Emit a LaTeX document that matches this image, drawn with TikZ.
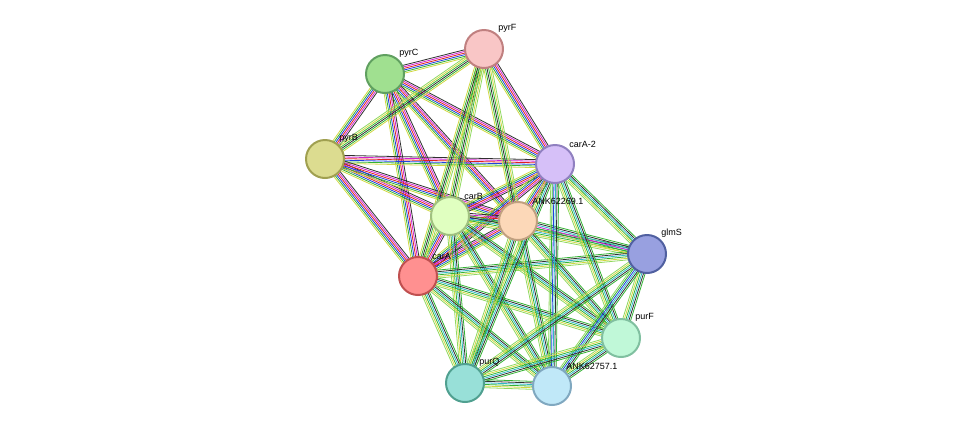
\documentclass[tikz,border=0pt]{standalone}
\usepackage{fontspec}
\setmainfont{Liberation Sans}
\usetikzlibrary{calc,backgrounds}
\definecolor{eg}{HTML}{33B233}
\definecolor{er}{HTML}{E02020}
\definecolor{eb}{HTML}{2040E0}
\definecolor{em}{HTML}{D020D0}
\definecolor{ek}{HTML}{303030}
\definecolor{ey}{HTML}{D0D840}
\definecolor{ec}{HTML}{30B8C8}
\definecolor{el}{HTML}{90D860}
\tikzset{
 prot/.style={circle,minimum size=38pt,inner sep=0pt,line width=2pt},
 lab/.style={font=\fontsize{9}{11}\selectfont,anchor=south west,inner sep=1pt},
 edgeline/.style={line width=0.8pt}
}
\newcommand\edg[3]{%
 \foreach \c [count=\i] in {#3} {%
  \pgfmathsetmacro\o{(\i-3.5)*1.6}%
  \draw[edgeline,\c] ($(#1)!\o pt!90:(#2)$) -- ($(#2)!\o pt!-90:(#1)$);}}
\newcommand\full[2]{\edg{#1}{#2}{ey,eg,eb,er,em,ek}}
\newcommand\purs[2]{\edg{#1}{#2}{el,ey,eg,ec,ek,eg}}
\newcommand\thin[2]{\edg{#1}{#2}{ey,eg,ek,eg,ey,el}}
\begin{document}
\begin{tikzpicture}[x=1pt,y=-1pt]
\useasboundingbox (0,0) rectangle (976,432);
\node[prot,fill={rgb,255:red,249;green,198;blue,198},draw={rgb,255:red,192;green,128;blue,128}] (pyrF) at (484,49) {};
\node[prot,fill={rgb,255:red,160;green,224;blue,144},draw={rgb,255:red,96;green,160;blue,96}] (pyrC) at (385,74) {};
\node[prot,fill={rgb,255:red,220;green,220;blue,144},draw={rgb,255:red,160;green,160;blue,80}] (pyrB) at (325,159) {};
\node[prot,fill={rgb,255:red,214;green,192;blue,248},draw={rgb,255:red,144;green,128;blue,192}] (carA2) at (555,164) {};
\node[prot,fill={rgb,255:red,224;green,255;blue,192},draw={rgb,255:red,160;green,192;blue,128}] (carB) at (450,216) {};
\node[prot,fill={rgb,255:red,252;green,216;blue,184},draw={rgb,255:red,192;green,160;blue,128}] (ank1) at (518,221) {};
\node[prot,fill={rgb,255:red,152;green,160;blue,224},draw={rgb,255:red,80;green,96;blue,160}] (glmS) at (647,254) {};
\node[prot,fill={rgb,255:red,255;green,144;blue,144},draw={rgb,255:red,192;green,80;blue,80}] (carA) at (418,276) {};
\node[prot,fill={rgb,255:red,192;green,248;blue,216},draw={rgb,255:red,128;green,192;blue,160}] (purF) at (621,338) {};
\node[prot,fill={rgb,255:red,152;green,224;blue,216},draw={rgb,255:red,80;green,160;blue,144}] (purQ) at (465,383) {};
\node[prot,fill={rgb,255:red,192;green,232;blue,248},draw={rgb,255:red,128;green,168;blue,192}] (ank2) at (552,386) {};
\begin{scope}[on background layer]
\full{pyrC}{pyrF}\full{pyrC}{pyrB}\full{pyrC}{carA2}\full{pyrC}{carB}\full{pyrC}{carA}\full{pyrC}{ank1}
\full{pyrB}{carA2}\full{pyrB}{carB}\full{pyrB}{carA}\full{pyrB}{ank1}\thin{pyrB}{pyrF}
\full{carA2}{carB}\full{carA2}{ank1}\full{carA2}{carA}\full{carB}{ank1}\full{carB}{carA}\full{carA}{ank1}
\full{pyrF}{carA2}\thin{pyrF}{carB}\thin{pyrF}{carA}\thin{pyrF}{ank1}
\purs{carB}{purQ}\purs{carB}{ank2}\purs{carB}{purF}\purs{carB}{glmS}
\purs{carA}{purQ}\purs{carA}{ank2}\purs{carA}{purF}\purs{carA}{glmS}
\edg{ank1}{glmS}{ey,eg,em,ec,ek,eg}\purs{ank1}{purF}\purs{ank1}{purQ}\purs{ank1}{ank2}
\purs{carA2}{glmS}\purs{carA2}{purF}\purs{carA2}{purQ}\edg{carA2}{ank2}{el,eg,eb,ec,ek,eg}
\purs{glmS}{purF}\purs{glmS}{purQ}\edg{glmS}{ank2}{el,eg,eb,ec,ek,eg}
\purs{purF}{purQ}\purs{purF}{ank2}\purs{purQ}{ank2}
\end{scope}
\node[lab] at (pyrF.north east) [xshift=-1pt,yshift=1pt] {pyrF};
\node[lab] at (pyrC.north east) [xshift=-1pt,yshift=1pt] {pyrC};
\node[lab] at (pyrB.north east) [xshift=-1pt,yshift=1pt] {pyrB};
\node[lab] at (carA2.north east) [xshift=-1pt,yshift=1pt] {carA-2};
\node[lab] at (carB.north east) [xshift=-1pt,yshift=1pt] {carB};
\node[lab] at (ank1.north east) [xshift=-1pt,yshift=1pt] {ANK62269.1};
\node[lab] at (glmS.north east) [xshift=-1pt,yshift=1pt] {glmS};
\node[lab] at (carA.north east) [xshift=-1pt,yshift=1pt] {carA};
\node[lab] at (purF.north east) [xshift=-1pt,yshift=1pt] {purF};
\node[lab] at (purQ.north east) [xshift=-1pt,yshift=1pt] {purQ};
\node[lab] at (ank2.north east) [xshift=-1pt,yshift=1pt] {ANK62757.1};
\end{tikzpicture}
\end{document}
